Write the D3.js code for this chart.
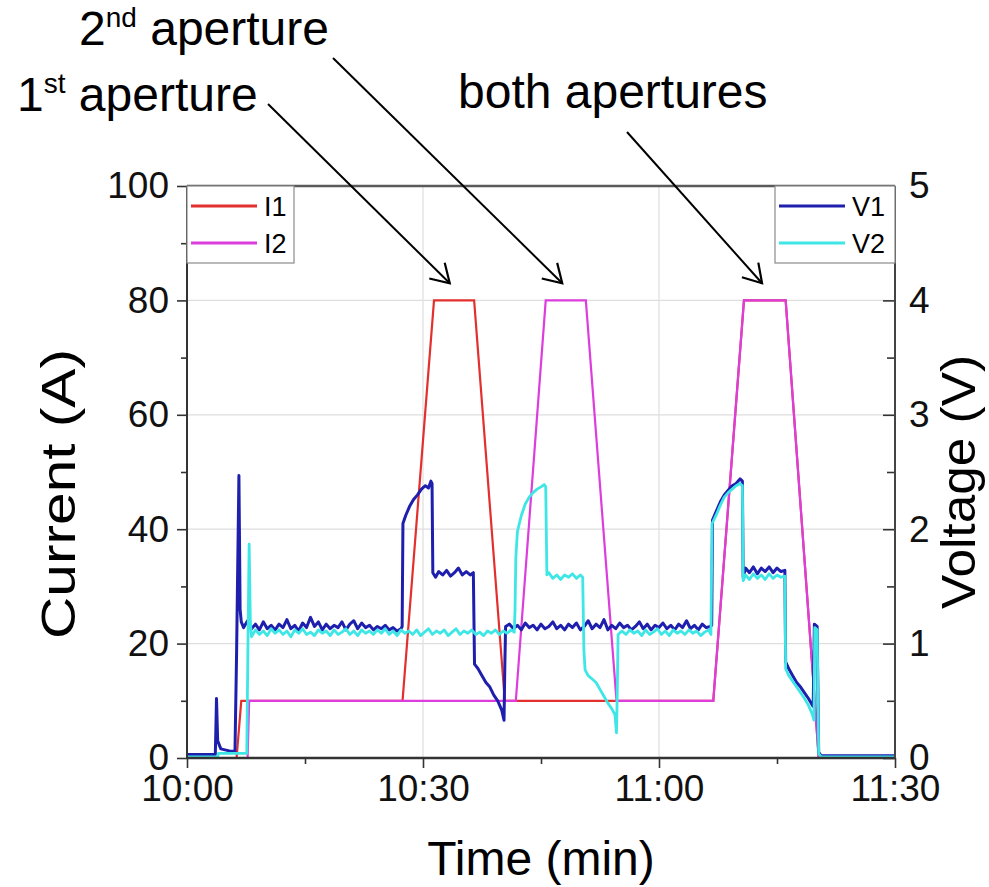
<!DOCTYPE html>
<html>
<head>
<meta charset="utf-8">
<script src="https://cdn.jsdelivr.net/npm/d3@7"></script>
<style>
  body { margin: 0; background: #fff; }
  svg { font-family: "Liberation Sans", Arial, sans-serif; }
  .axis text { font-size: 37px; fill: #111; }
  .axis line { stroke: #333; stroke-width: 1.6; }
  .axis path { display: none; }
  .grid line { stroke: #dedede; stroke-width: 1.2; }
</style>
</head>
<body>
<script>
// ---- data (time in minutes after 10:00) ----
const timeTicks = [0, 30, 60, 90];
const timeLabels = ["10:00", "10:30", "11:00", "11:30"];
const timeMinor = [15, 45, 75];
const currentTicks = [0, 20, 40, 60, 80, 100];
const currentMinor = [10, 30, 50, 70, 90];
const voltageTicks = [0, 1, 2, 3, 4, 5];
const voltageMinor = [0.5, 1.5, 2.5, 3.5, 4.5];

const I1 = [[0, 0], [6.3, 0], [6.9, 10], [27.4, 10], [31.4, 80], [36.5, 80], [40.4, 10],
  [66.9, 10], [70.8, 80], [76.1, 80], [79.8, 10], [80.3, 0], [90, 0]];

const I2 = [[0, 0], [7.7, 0], [7.9, 10], [41.8, 10], [45.6, 80], [50.7, 80], [54.6, 10],
  [66.9, 10], [70.8, 80], [76.1, 80], [79.8, 10], [80.3, 0], [90, 0]];

const V1 = [[0, 0.03], [3.6, 0.03], [3.75, 0.52], [3.9, 0.15], [4.3, 0.08], [5.5, 0.06], [6.1, 0.06],
  [6.3, 0.9], [6.6, 2.47], [6.75, 1.3], [6.9, 1.19], [7.2, 1.14], [7.7, 1.2], [8.2, 1.13], [8.7, 1.17],
  [9.2, 1.12], [9.7, 1.19], [10.2, 1.13], [10.7, 1.16], [11.2, 1.12], [11.7, 1.17], [12.2, 1.14],
  [12.7, 1.21], [13.2, 1.13], [13.7, 1.16], [14.2, 1.11], [14.7, 1.18], [15.2, 1.14], [15.7, 1.23],
  [16.2, 1.15], [16.7, 1.19], [17.2, 1.12], [17.7, 1.17], [18.2, 1.13], [18.7, 1.16], [19.2, 1.14],
  [19.7, 1.19], [20.2, 1.12], [20.7, 1.17], [21.2, 1.2], [21.7, 1.13], [22.2, 1.18], [22.7, 1.14],
  [23.2, 1.16], [23.7, 1.12], [24.2, 1.15], [24.7, 1.13], [25.2, 1.16], [25.7, 1.12], [26.2, 1.14],
  [26.7, 1.11], [27.2, 1.13], [27.35, 1.15], [27.45, 2.05], [27.8, 2.12], [28.3, 2.2], [28.8, 2.26],
  [29.3, 2.3], [29.8, 2.35], [30.3, 2.38], [30.7, 2.36], [31.0, 2.42], [31.15, 2.4], [31.25, 1.62],
  [31.6, 1.58], [32.0, 1.63], [32.5, 1.6], [33.0, 1.64], [33.5, 1.59], [34.0, 1.62], [34.5, 1.66],
  [35.0, 1.6], [35.5, 1.63], [36.0, 1.6], [36.4, 1.62], [36.55, 0.82], [37.0, 0.78], [37.5, 0.72],
  [38.0, 0.66], [38.5, 0.62], [39.0, 0.55], [39.5, 0.5], [40.0, 0.42], [40.3, 0.33], [40.4, 0.8],
  [40.5, 1.15], [41.0, 1.17], [41.5, 1.13], [42.0, 1.16], [42.5, 1.12], [43.0, 1.18], [43.5, 1.14],
  [44.0, 1.16], [44.5, 1.12], [45.0, 1.17], [45.5, 1.13], [46.0, 1.15], [46.5, 1.19], [47.0, 1.13],
  [47.5, 1.16], [48.0, 1.12], [48.5, 1.17], [49.0, 1.14], [49.5, 1.18], [50.0, 1.12], [50.5, 1.15],
  [51.0, 1.2], [51.5, 1.13], [52.0, 1.17], [52.5, 1.14], [53.0, 1.21], [53.5, 1.12], [54.0, 1.16],
  [54.5, 1.13], [55.0, 1.18], [55.5, 1.14], [56.0, 1.16], [56.5, 1.12], [57.0, 1.15], [57.5, 1.19],
  [58.0, 1.13], [58.5, 1.17], [59.0, 1.12], [59.5, 1.16], [60.0, 1.14], [60.5, 1.18], [61.0, 1.13],
  [61.5, 1.16], [62.0, 1.12], [62.5, 1.17], [63.0, 1.14], [63.5, 1.2], [64.0, 1.13], [64.5, 1.16],
  [65.0, 1.12], [65.5, 1.17], [66.0, 1.14], [66.5, 1.15], [66.7, 1.16], [66.8, 2.08], [67.3, 2.16],
  [67.8, 2.24], [68.3, 2.3], [68.8, 2.34], [69.3, 2.38], [69.8, 2.4], [70.3, 2.44], [70.6, 2.42],
  [70.7, 1.58], [71.0, 1.66], [71.5, 1.62], [72.0, 1.67], [72.5, 1.61], [73.0, 1.66], [73.5, 1.63],
  [74.0, 1.67], [74.5, 1.62], [75.0, 1.66], [75.5, 1.63], [76.0, 1.64], [76.1, 0.84], [76.5, 0.78],
  [77.0, 0.72], [77.5, 0.66], [78.0, 0.62], [78.5, 0.57], [79.0, 0.52], [79.5, 0.46], [79.6, 0.45],
  [79.75, 1.17], [80.1, 1.15], [80.3, 0.05], [80.6, 0.02], [90, 0.02]];

const V2 = [[0, 0.01], [3.9, 0.01], [4.0, 0.04], [7.6, 0.04], [7.75, 1.0], [7.9, 1.87], [8.05, 1.2],
  [8.2, 1.06], [8.7, 1.12], [9.2, 1.08], [9.7, 1.11], [10.2, 1.07], [10.7, 1.13], [11.2, 1.09],
  [11.7, 1.12], [12.2, 1.08], [12.7, 1.11], [13.2, 1.06], [13.7, 1.12], [14.2, 1.09], [14.7, 1.13],
  [15.2, 1.08], [15.7, 1.1], [16.2, 1.07], [16.7, 1.12], [17.2, 1.09], [17.7, 1.11], [18.2, 1.07],
  [18.7, 1.12], [19.2, 1.08], [19.7, 1.1], [20.2, 1.13], [20.7, 1.08], [21.2, 1.11], [21.7, 1.07],
  [22.2, 1.12], [22.7, 1.09], [23.2, 1.11], [23.7, 1.08], [24.2, 1.12], [24.7, 1.09], [25.2, 1.13],
  [25.7, 1.08], [26.2, 1.11], [26.7, 1.07], [27.2, 1.12], [27.7, 1.09], [28.2, 1.11], [28.7, 1.08],
  [29.2, 1.12], [29.7, 1.07], [30.2, 1.1], [30.7, 1.13], [31.2, 1.08], [31.7, 1.11], [32.2, 1.09],
  [32.7, 1.12], [33.2, 1.07], [33.7, 1.1], [34.2, 1.13], [34.7, 1.08], [35.2, 1.11], [35.7, 1.09],
  [36.2, 1.12], [36.7, 1.08], [37.2, 1.1], [37.7, 1.07], [38.2, 1.11], [38.7, 1.09], [39.2, 1.12],
  [39.7, 1.08], [40.2, 1.11], [40.7, 1.09], [41.2, 1.12], [41.6, 1.1], [41.7, 1.3], [41.8, 1.75],
  [42.0, 1.98], [42.5, 2.12], [43.0, 2.22], [43.5, 2.28], [44.0, 2.32], [44.5, 2.35], [45.0, 2.37],
  [45.4, 2.39], [45.6, 2.37], [45.75, 1.6], [46.0, 1.62], [46.5, 1.57], [47.0, 1.6], [47.5, 1.56],
  [48.0, 1.6], [48.5, 1.58], [49.0, 1.61], [49.5, 1.57], [50.0, 1.6], [50.3, 1.58], [50.45, 0.95],
  [50.6, 0.77], [51.0, 0.72], [51.5, 0.69], [52.0, 0.66], [52.5, 0.6], [53.0, 0.54], [53.5, 0.48],
  [54.0, 0.43], [54.4, 0.38], [54.6, 0.22], [54.7, 0.6], [54.8, 1.08], [55.3, 1.11], [55.8, 1.08],
  [56.3, 1.12], [56.8, 1.09], [57.3, 1.11], [57.8, 1.07], [58.3, 1.12], [58.8, 1.08], [59.3, 1.1],
  [59.8, 1.13], [60.3, 1.08], [60.8, 1.11], [61.3, 1.07], [61.8, 1.12], [62.3, 1.09], [62.8, 1.11],
  [63.3, 1.08], [63.8, 1.12], [64.3, 1.09], [64.8, 1.11], [65.3, 1.07], [65.8, 1.1], [66.3, 1.12],
  [66.6, 1.08], [66.75, 2.05], [67.3, 2.13], [67.8, 2.21], [68.3, 2.28], [68.8, 2.32], [69.3, 2.35],
  [69.8, 2.38], [70.3, 2.4], [70.6, 2.38], [70.7, 1.55], [71.0, 1.6], [71.5, 1.56], [72.0, 1.61],
  [72.5, 1.57], [73.0, 1.6], [73.5, 1.56], [74.0, 1.61], [74.5, 1.57], [75.0, 1.6], [75.5, 1.58],
  [76.0, 1.59], [76.1, 0.78], [76.5, 0.72], [77.0, 0.67], [77.5, 0.62], [78.0, 0.57], [78.5, 0.52],
  [79.0, 0.46], [79.5, 0.38], [79.7, 0.33], [79.8, 1.14], [80.1, 1.12], [80.3, 0.04], [80.6, 0.01],
  [90, 0.01]];

// arrow tips, in (minutes, amps)
const arrowTips = [[33.4, 83], [47.7, 83], [73.1, 83]];

// ---- layout ----
const W = 989, H = 887;
const margin = {left: 187, right: 94, top: 186, bottom: 129};
const w = W - margin.left - margin.right,
  h = H - margin.top - margin.bottom;

const colors = {I1: "#e2302e", I2: "#dc3ddc", V1: "#1f1fae", V2: "#3fe6e6"};

const x = d3.scaleLinear().domain([0, 90]).range([0, w]);
const yI = d3.scaleLinear().domain([0, 100]).range([h, 0]);
const yV = d3.scaleLinear().domain([0, 5]).range([h, 0]);

const svg = d3.select("body")
  .append("svg")
  .attr("width", W)
  .attr("height", H);

svg.append("defs").append("clipPath").attr("id", "plot-clip")
  .append("rect").attr("width", w).attr("height", h + 2).attr("y", -1);

const g = svg.append("g")
  .attr("transform", "translate(" + margin.left + "," + margin.top + ")");

// grid
g.append("g").attr("class", "grid")
  .selectAll("line").data([20, 40, 60, 80]).enter().append("line")
  .attr("x1", 0).attr("x2", w)
  .attr("y1", d => yI(d)).attr("y2", d => yI(d));
g.append("g").attr("class", "grid")
  .selectAll("line").data([30, 60]).enter().append("line")
  .attr("y1", 0).attr("y2", h)
  .attr("x1", d => x(d)).attr("x2", d => x(d));

// series
const plot = g.append("g").attr("clip-path", "url(#plot-clip)");
const lineI = d3.line().x(d => x(d[0])).y(d => yI(d[1]));
const lineV = d3.line().x(d => x(d[0])).y(d => yV(d[1]));

plot.append("path").datum(I1).attr("d", lineI)
  .attr("fill", "none").attr("stroke", colors.I1).attr("stroke-width", 2.2);
plot.append("path").datum(I2).attr("d", lineI)
  .attr("fill", "none").attr("stroke", colors.I2).attr("stroke-width", 2.2);
plot.append("path").datum(V1).attr("d", lineV)
  .attr("fill", "none").attr("stroke", colors.V1).attr("stroke-width", 3)
  .attr("stroke-linejoin", "round");
plot.append("path").datum(V2).attr("d", lineV)
  .attr("fill", "none").attr("stroke", colors.V2).attr("stroke-width", 2.8)
  .attr("stroke-linejoin", "round");

// axes
g.append("g").attr("class", "axis")
  .call(d3.axisLeft(yI).tickValues(currentTicks).tickSize(10).tickPadding(8));
g.append("g").attr("class", "axis")
  .call(d3.axisLeft(yI).tickValues(currentMinor).tickSize(6).tickFormat(""));

g.append("g").attr("class", "axis")
  .attr("transform", "translate(" + w + ",0)")
  .call(d3.axisRight(yV).tickValues(voltageTicks).tickSizeInner(-12).tickSizeOuter(0)
    .tickPadding(14).tickFormat(d3.format("d")));
g.append("g").attr("class", "axis")
  .attr("transform", "translate(" + w + ",0)")
  .call(d3.axisRight(yV).tickValues(voltageMinor).tickSizeInner(-8).tickSizeOuter(0).tickFormat(""));

g.append("g").attr("class", "axis")
  .attr("transform", "translate(0," + h + ")")
  .call(d3.axisBottom(x).tickValues(timeTicks).tickSize(10).tickPadding(7)
    .tickFormat((d, i) => timeLabels[i]));
g.append("g").attr("class", "axis")
  .attr("transform", "translate(0," + h + ")")
  .call(d3.axisBottom(x).tickValues(timeMinor).tickSize(6).tickFormat(""));

// frame
g.append("line").attr("x1", 0).attr("x2", w).attr("y1", 0).attr("y2", 0)
  .attr("stroke", "#5a5a5a").attr("stroke-width", 2.6);
g.append("line").attr("x1", 0).attr("x2", w).attr("y1", h).attr("y2", h)
  .attr("stroke", "#333").attr("stroke-width", 2.4);
g.append("line").attr("x1", 0).attr("x2", 0).attr("y1", 0).attr("y2", h)
  .attr("stroke", "#333").attr("stroke-width", 2);
g.append("line").attr("x1", w).attr("x2", w).attr("y1", 0).attr("y2", h)
  .attr("stroke", "#444").attr("stroke-width", 2);

// legends
function legend(x0, width, items) {
  const lg = g.append("g").attr("transform", "translate(" + x0 + ",0)");
  lg.append("rect").attr("x", 0).attr("y", 0).attr("width", width).attr("height", 77)
    .attr("fill", "#fff").attr("stroke", "#8a8a8a").attr("stroke-width", 1.2);
  items.forEach((k, i) => {
    const yy = 20 + i * 37;
    lg.append("line").attr("x1", 4).attr("x2", 70).attr("y1", yy).attr("y2", yy)
      .attr("stroke", colors[k]).attr("stroke-width", 3);
    lg.append("text").attr("x", 77).attr("y", yy + 9.5)
      .style("font-size", "27px").text(k);
  });
}
legend(0, 107, ["I1", "I2"]);
legend(w - 120, 120, ["V1", "V2"]);

// axis titles
svg.append("text")
  .attr("x", margin.left + w / 2).attr("y", 875)
  .style("text-anchor", "middle").style("font-size", "48px")
  .text("Time (min)");

svg.append("text")
  .attr("transform", "translate(75,494) rotate(-90)")
  .attr("x", -145)
  .attr("textLength", 290).attr("lengthAdjust", "spacingAndGlyphs")
  .style("font-size", "49px")
  .text("Current (A)");

svg.append("text")
  .attr("transform", "translate(975,482) rotate(-90)")
  .attr("x", -127)
  .attr("textLength", 254).attr("lengthAdjust", "spacingAndGlyphs")
  .style("font-size", "48px")
  .text("Voltage (V)");

// annotations
function note(tx, ty, main, sup, rest) {
  const t = svg.append("text").attr("x", tx).attr("y", ty).style("font-size", "48px");
  t.append("tspan").text(main);
  if (sup) {
    t.append("tspan").attr("dy", -18).style("font-size", "28px").text(sup);
    t.append("tspan").attr("dy", 18).text(rest);
  }
}
note(17, 111, "1", "st", " aperture");
note(79, 45, "2", "nd", " aperture");
note(458, 108, "both apertures");

const starts = [[268, 104], [333, 58], [627, 132]];
starts.forEach((s, i) => {
  const tx = margin.left + x(arrowTips[i][0]),
    ty = margin.top + yI(arrowTips[i][1]);
  const ang = Math.atan2(ty - s[1], tx - s[0]);
  svg.append("line").attr("x1", s[0]).attr("y1", s[1]).attr("x2", tx).attr("y2", ty)
    .attr("stroke", "#000").attr("stroke-width", 2);
  const len = 21, spread = 0.55;
  const a1 = [tx - len * Math.cos(ang - spread), ty - len * Math.sin(ang - spread)];
  const a2 = [tx - len * Math.cos(ang + spread), ty - len * Math.sin(ang + spread)];
  svg.append("path")
    .attr("d", "M" + a1 + "L" + tx + "," + ty + "L" + a2)
    .attr("fill", "none").attr("stroke", "#000").attr("stroke-width", 2.2);
});
</script>
</body>
</html>
